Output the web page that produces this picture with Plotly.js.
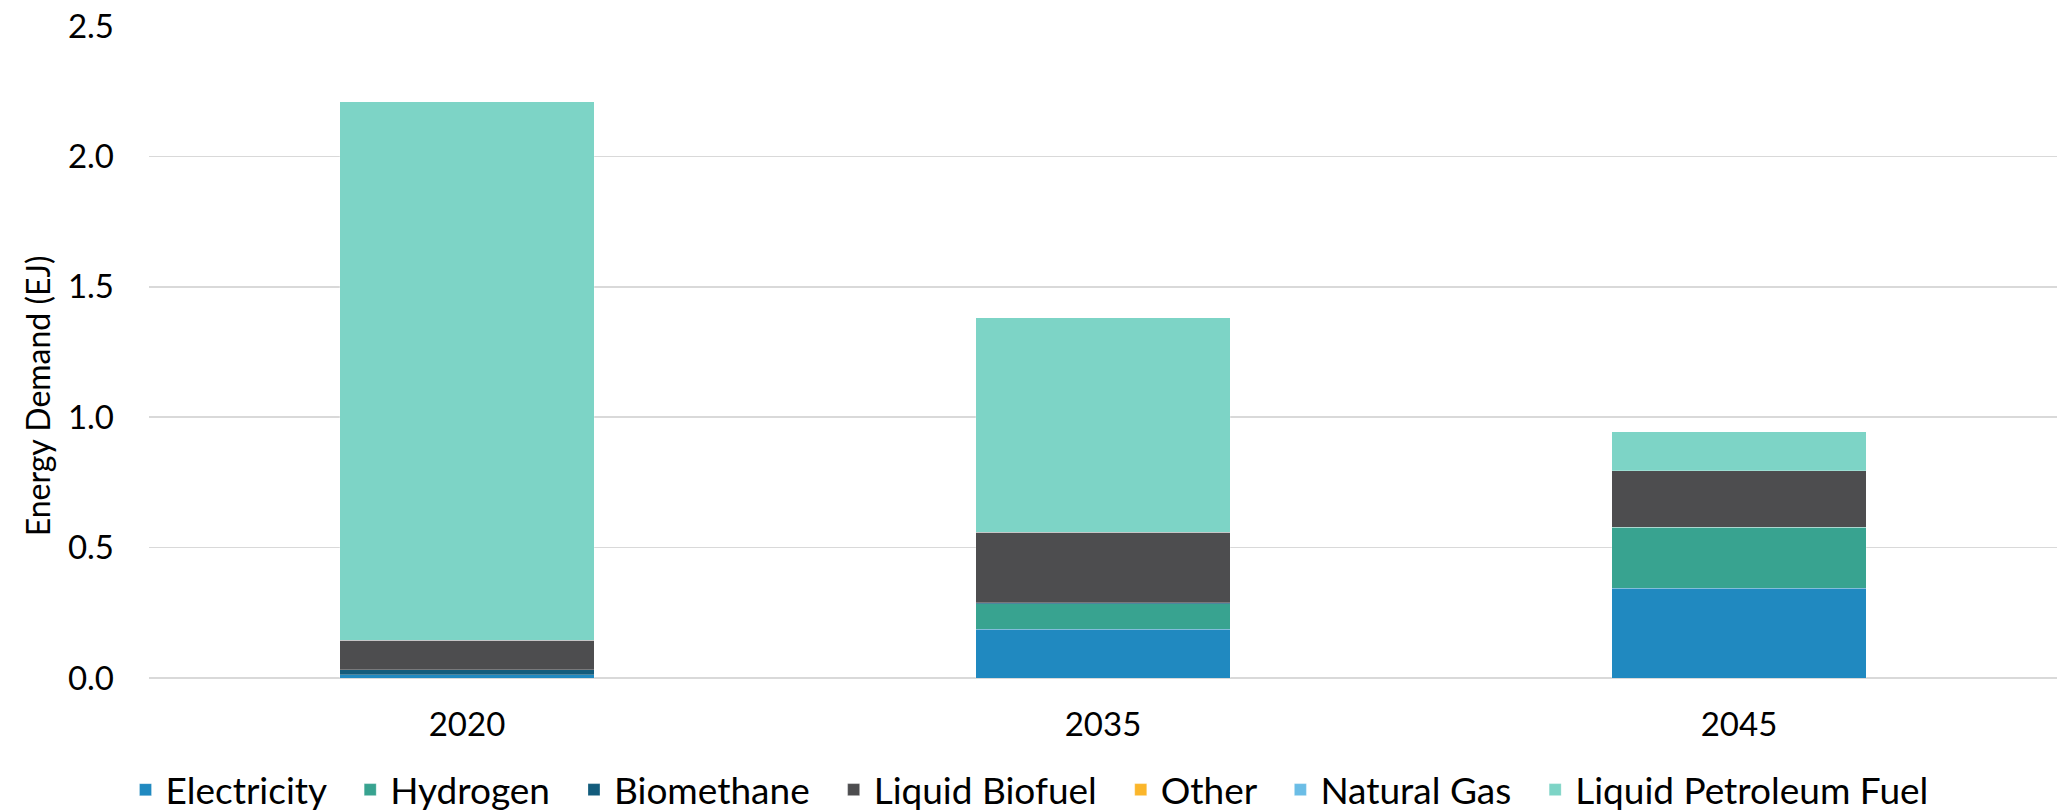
<!DOCTYPE html>
<html>
<head>
<meta charset="utf-8">
<script src="https://cdn.plot.ly/plotly-3.0.1.min.js"></script>
<style>html,body{margin:0;padding:0;background:#fff;}#chart{width:2059px;height:812px;}</style>
</head>
<body>
<div id="chart"></div>
<script>
const categories = ["2020", "2035", "2045"];
const electricity = [0.012, 0.186, 0.345];
const hydrogen = [0.0, 0.098, 0.233];
const biomethane = [0.020, 0.005, 0.0];
const liquidBiofuel = [0.112, 0.270, 0.216];
const other = [0.0, 0.0, 0.0];
const naturalGas = [0.0, 0.0, 0.0];
const liquidPetroleum = [2.066, 0.822, 0.150];

const seriesNames = ["Electricity", "Hydrogen", "Biomethane", "Liquid Biofuel", "Other", "Natural Gas", "Liquid Petroleum Fuel"];
const seriesValues = [electricity, hydrogen, biomethane, liquidBiofuel, other, naturalGas, liquidPetroleum];
const seriesColors = ["#2089C0", "#38A390", "#135C7C", "#4D4D4F", "#FBB62B", "#6BBDE6", "#7DD4C6"];
const yTitle = "Energy Demand (EJ)";

const traces = seriesNames.map((n, i) => ({
  type: "bar",
  name: i < seriesNames.length - 1 ? n + "\u00a0\u00a0" : n,
  x: categories,
  y: seriesValues[i],
  marker: {color: seriesColors[i], line: {color: "rgba(255,255,255,0.25)", width: 1}},
  hoverinfo: "x+y"
}));

const layout = {
  width: 2059,
  height: 812,
  margin: {l: 149, r: 2, t: 26, b: 134},
  paper_bgcolor: "#fff",
  plot_bgcolor: "#fff",
  font: {family: "Lato, 'Noto Sans', sans-serif", color: "#000", size: 33},
  barmode: "stack",
  bargap: 0.6,
  showlegend: true,
  legend: {
    orientation: "h",
    xref: "container",
    x: 0.5,
    xanchor: "center",
    yref: "container",
    y: 0.027,
    yanchor: "middle",
    traceorder: "normal",
    font: {size: 37, color: "#000"},
    itemclick: false
  },
  xaxis: {
    type: "category",
    showgrid: false,
    showline: false,
    zeroline: false,
    ticks: "",
    tickfont: {size: 33, color: "#000"},
    ticklabelstandoff: 24
  },
  yaxis: {
    range: [0, 2.5],
    dtick: 0.5,
    tickformat: ".1f",
    showgrid: true,
    gridcolor: "#D9D9D9",
    gridwidth: 1.5,
    zeroline: true,
    zerolinecolor: "#D9D9D9",
    zerolinewidth: 1.5,
    showline: false,
    ticks: "",
    tickfont: {size: 33, color: "#000"},
    ticklabelstandoff: 34
  },
  annotations: [{
    text: yTitle,
    xref: "paper", yref: "paper",
    x: -0.0587, y: 0.432,
    xanchor: "center", yanchor: "middle",
    textangle: -90,
    showarrow: false,
    font: {size: 32, color: "#000"}
  }]
};

Plotly.newPlot("chart", traces, layout, {displayModeBar: false, staticPlot: true});
</script>
</body>
</html>
